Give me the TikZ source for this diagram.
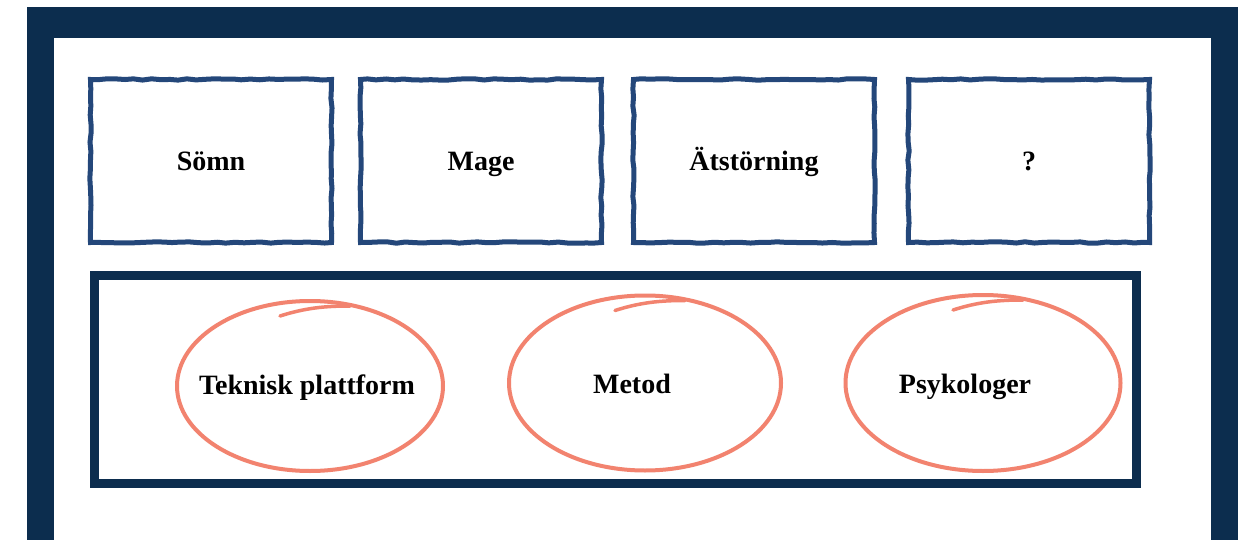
\documentclass[tikz,border=0pt]{standalone}
\usepackage{fontspec}
\setmainfont{Liberation Serif}
\usepackage{tikz}
\usetikzlibrary{shapes.geometric,decorations.pathmorphing}
\definecolor{navy}{HTML}{0C2D4E}
\definecolor{boxblue}{HTML}{24477A}
\definecolor{salmon}{HTML}{F2836F}

\begin{document}
\begin{tikzpicture}[x=1pt, y=-1pt,
    every node/.style={font=\fontsize{28}{30}\selectfont\bfseries, outer sep=0pt},
    roughbox/.style={draw=boxblue, line width=5pt, minimum width=241pt, minimum height=163pt,
        text height=20pt, text depth=0pt,
        decorate, decoration={random steps, segment length=9pt, amplitude=0.7pt}},
    ring/.style={ellipse, draw=salmon, line width=4pt, inner sep=0pt}]
    \pgfmathsetseed{11}
    \useasboundingbox (0,0) rectangle (1242,540);
    \fill[navy] (27,7) rectangle (1238,540);
    \fill[white] (54,38) rectangle (1211,540);

    % top row
    \node[roughbox] (somn) at (211,161) {Sömn};
    \node[roughbox] (mage) at (481,161) {Mage};
    \node[roughbox] (atst) at (754,161) {Ätstörning};
    \node[roughbox] (fraga) at (1029,161) {?};

    % base
    \node[draw=navy, line width=9pt, minimum width=1042pt, minimum height=208pt] (base) at (615.5,379.5) {};

    \node[ring, minimum width=266pt, minimum height=170pt] (e1) at (310,386) {};
    \node[ring, minimum width=272pt, minimum height=175pt] (e2) at (645,383) {};
    \node[ring, minimum width=275pt, minimum height=176pt] (e3) at (983,383) {};
    \foreach \e in {e1,e2,e3}
        \draw[salmon, line width=3.5pt, line cap=round] ([shift={(-30,15)}]\e.north) .. controls ([shift={(-5,7)}]\e.north) and ([shift={(15,5)}]\e.north) .. ([shift={(40,5)}]\e.north);

    \node[anchor=base] (tek) at (307,394) {Teknisk plattform};
    \node[anchor=base] (met) at (632,393) {Metod};
    \node[anchor=base] (psy) at (965,393) {Psykologer};
\end{tikzpicture}
\end{document}
